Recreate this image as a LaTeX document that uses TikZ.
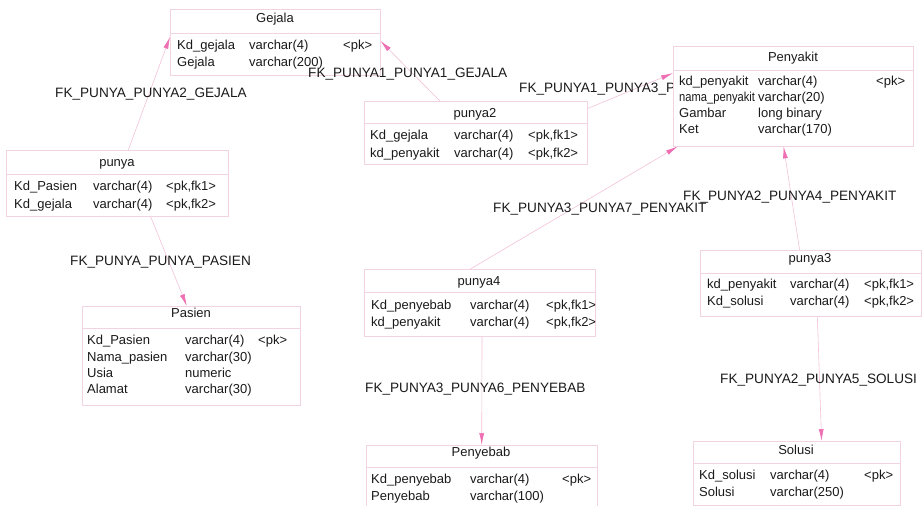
\documentclass[tikz,border=0pt]{standalone}
\usepackage{fontspec}
\setmainfont{Liberation Sans}
\usetikzlibrary{arrows.meta,calc}
\definecolor{boxline}{HTML}{F1D3E1}
\definecolor{fkline}{HTML}{F3C3DA}
\definecolor{fktip}{HTML}{EE6FB3}
\definecolor{ink}{HTML}{1A1A1A}
\newcommand{\erow}[8]{%
  \node[cell] (#1a) at (#2,#5) {#6};
  \node[cell] (#1b) at (#3,#5) {#7};
  \node[cell] (#1c) at (#4,#5) {#8};}
\newcommand{\etable}[6]{% name, x1, y1, x2, y2, sep
  \node[tbl, minimum width={(#4-#2)*1pt}, minimum height={(#5-#3)*1pt}, anchor=north west] (#1) at (#2,#3) {};
  \draw[sepline] (#1.west |- 0,#6) -- (#1.east |- 0,#6);}
\begin{document}
\begin{tikzpicture}[x=1pt,y=-1pt,
  tbl/.style={draw=boxline, fill=white, line width=0.6pt, inner sep=0pt},
  sepline/.style={draw=boxline, line width=0.6pt},
  cell/.style={anchor=base west, inner sep=0pt, text=ink, font=\fontsize{13}{15}\selectfont},
  hdr/.style={anchor=base, inner sep=0pt, text=ink, font=\fontsize{13}{15}\selectfont},
  fklab/.style={anchor=base west, inner sep=0pt, text=ink, font=\fontsize{13.6}{15}\selectfont},
  fk/.style={draw=fkline, line width=0.6pt, -{Latex[length=12pt,width=5pt,color=fktip]}}]
\useasboundingbox[fill=white] (0,0) rectangle (924,506);
% invisible frames that name the tables for the connectors
\node[inner sep=0pt, minimum width=210pt, minimum height=66pt, anchor=north west] (gej) at (170,9) {};
\node[inner sep=0pt, minimum width=222pt, minimum height=66pt, anchor=north west] (pun) at (6,150) {};
\node[inner sep=0pt, minimum width=218pt, minimum height=99pt, anchor=north west] (pas) at (82,306) {};
\node[inner sep=0pt, minimum width=223pt, minimum height=63pt, anchor=north west] (pun2) at (364,101) {};
\node[inner sep=0pt, minimum width=240pt, minimum height=100pt, anchor=north west] (pen) at (673,46) {};
\node[inner sep=0pt, minimum width=231pt, minimum height=67pt, anchor=north west] (pun4) at (364,269) {};
\node[inner sep=0pt, minimum width=221pt, minimum height=66pt, anchor=north west] (pun3) at (700,250) {};
\node[inner sep=0pt, minimum width=231pt, minimum height=60pt, anchor=north west] (peb) at (366,445) {};
\node[inner sep=0pt, minimum width=207pt, minimum height=64pt, anchor=north west] (sol) at (693,441) {};
\draw[fk] ($(pun.north west)!0.55!(pun.north east)$) -- ($(gej.north west)!0.42!(gej.south west)$);
\draw[fk] ($(pun.south west)!0.65!(pun.south east)$) -- ($(pas.north west)!0.48!(pas.north east)$);
\draw[fk] ($(pun2.north west)!0.34!(pun2.north east)$) -- ($(gej.north east)!0.48!(gej.south east)$);
\draw[fk] ($(pun2.north east)!0.12!(pun2.south east)$) -- ($(pen.north west)!0.27!(pen.south west)$);
\draw[fk] ($(pun4.north west)!0.46!(pun4.north east)$) -- ($(pen.south west)!0.02!(pen.south east)$);
\draw[fk] ($(pun3.north west)!0.45!(pun3.north east)$) -- ($(pen.south west)!0.46!(pen.south east)$);
\draw[fk] ($(pun4.south west)!0.51!(pun4.south east)$) -- ($(peb.north west)!0.5!(peb.north east)$);
\draw[fk] ($(pun3.south west)!0.53!(pun3.south east)$) -- ($(sol.north west)!0.62!(sol.north east)$);
% label partly hidden by the Penyakit box
\begin{scope}
\clip (0,0) rectangle (672,506);
\node[fklab] (l4) at (519,92) {FK\_PUNYA1\_PUNYA3\_PENYAKIT};
\end{scope}
% ---- tables
\etable{gejB}{170}{9}{380}{75}{33}
\node[hdr] (gejH) at (275,23) {Gejala};
\erow{gejR1}{177}{249}{343}{49}{Kd\_gejala}{varchar(4)}{<pk>}
\erow{gejR2}{177}{249}{343}{66}{Gejala}{varchar(200)}{}

\etable{punB}{6}{150}{228}{216}{174}
\node[hdr] (punH) at (117,166) {punya};
\erow{punR1}{14}{93}{166}{190}{Kd\_Pasien}{varchar(4)}{<pk,fk1>}
\erow{punR2}{14}{93}{166}{208}{Kd\_gejala}{varchar(4)}{<pk,fk2>}

\etable{pasB}{82}{306}{300}{405}{328}
\node[hdr] (pasH) at (191,317) {Pasien};
\erow{pasR1}{87}{185}{258}{344}{Kd\_Pasien}{varchar(4)}{<pk>}
\erow{pasR2}{87}{185}{258}{361}{Nama\_pasien}{varchar(30)}{}
\erow{pasR3}{87}{185}{258}{377}{Usia}{numeric}{}
\erow{pasR4}{87}{185}{258}{393}{Alamat}{varchar(30)}{}

\etable{pun2B}{364}{101}{587}{164}{123}
\node[hdr] (pun2H) at (475,117) {punya2};
\erow{pun2R1}{370}{454}{528}{139}{Kd\_gejala}{varchar(4)}{<pk,fk1>}
\erow{pun2R2}{370}{454}{528}{157}{kd\_penyakit}{varchar(4)}{<pk,fk2>}

\etable{penB}{673}{46}{913}{146}{70}
\node[hdr] (penH) at (793,61) {Penyakit};
\erow{penR1}{679}{758}{876}{85}{kd\_penyakit}{varchar(4)}{<pk>}
\node[cell] (penR2a) at (679,101) {\scalebox{0.86}[1]{nama\_penyakit}};
\node[cell] (penR2b) at (758,101) {varchar(20)};
\erow{penR3}{679}{758}{876}{117}{Gambar}{long binary}{}
\erow{penR4}{679}{758}{876}{133}{Ket}{varchar(170)}{}

\etable{pun4B}{364}{269}{595}{336}{292}
\node[hdr] (pun4H) at (479,285) {punya4};
\erow{pun4R1}{371}{470}{546}{309}{Kd\_penyebab}{varchar(4)}{<pk,fk1>}
\erow{pun4R2}{371}{470}{546}{326}{kd\_penyakit}{varchar(4)}{<pk,fk2>}

\etable{pun3B}{700}{250}{921}{316}{273}
\node[hdr] (pun3H) at (810,262) {punya3};
\erow{pun3R1}{707}{790}{864}{288}{kd\_penyakit}{varchar(4)}{<pk,fk1>}
\erow{pun3R2}{707}{790}{864}{305}{Kd\_solusi}{varchar(4)}{<pk,fk2>}

\etable{pebB}{366}{445}{597}{506}{467}
\node[hdr] (pebH) at (481,456) {Penyebab};
\erow{pebR1}{371}{470}{562}{483}{Kd\_penyebab}{varchar(4)}{<pk>}
\erow{pebR2}{371}{470}{562}{500}{Penyebab}{varchar(100)}{}

\etable{solB}{693}{441}{900}{505}{463}
\node[hdr] (solH) at (796,454) {Solusi};
\erow{solR1}{699}{770}{864}{479}{Kd\_solusi}{varchar(4)}{<pk>}
\erow{solR2}{699}{770}{864}{496}{Solusi}{varchar(250)}{}
% ---- other labels
\node[fklab] (l1) at (55,97) {FK\_PUNYA\_PUNYA2\_GEJALA};
\node[fklab] (l2) at (70,265) {FK\_PUNYA\_PUNYA\_PASIEN};
\node[fklab] (l3) at (308,77) {FK\_PUNYA1\_PUNYA1\_GEJALA};
\node[fklab] (l5) at (493,212) {FK\_PUNYA3\_PUNYA7\_PENYAKIT};
\node[fklab] (l6) at (683,200) {FK\_PUNYA2\_PUNYA4\_PENYAKIT};
\node[fklab] (l7) at (365,392) {FK\_PUNYA3\_PUNYA6\_PENYEBAB};
\node[fklab] (l8) at (720,383) {FK\_PUNYA2\_PUNYA5\_SOLUSI};
\end{tikzpicture}
\end{document}
